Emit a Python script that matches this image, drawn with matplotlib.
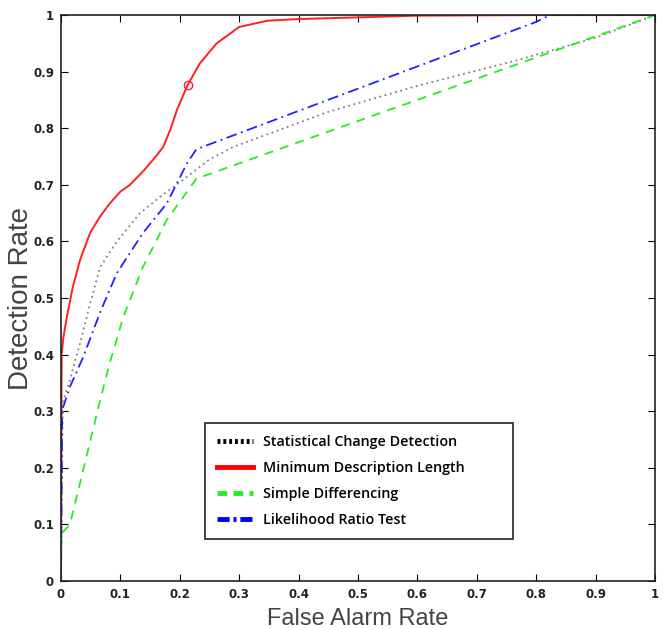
import matplotlib
matplotlib.use("Agg")
from matplotlib import pyplot as plt
from matplotlib.lines import Line2D

# ROC curves
mdl_x = [0.0, 0.001, 0.004, 0.01, 0.02, 0.032, 0.049, 0.065, 0.082, 0.1, 0.116, 0.14, 0.161, 0.172,
         0.185, 0.195, 0.213, 0.234, 0.262, 0.30, 0.347, 0.40, 0.5, 0.6, 0.8, 1.0]
mdl_y = [0.0, 0.40, 0.43, 0.467, 0.52, 0.567, 0.615, 0.643, 0.667, 0.688, 0.70, 0.726, 0.752, 0.767,
         0.80, 0.832, 0.876, 0.915, 0.95, 0.979, 0.99, 0.993, 0.996, 0.999, 1.0, 1.0]
mdl_mark_x = [0.213]
mdl_mark_y = [0.876]

scd_x = [0.0, 0.002, 0.004, 0.015, 0.032, 0.049, 0.066, 0.094, 0.133, 0.167, 0.212, 0.25, 0.29,
         0.45, 0.6, 0.767, 0.9, 0.97, 1.0]
scd_y = [0.0, 0.25, 0.32, 0.355, 0.42, 0.49, 0.555, 0.60, 0.65, 0.679, 0.714, 0.745, 0.767,
         0.829, 0.875, 0.92, 0.96, 0.988, 1.0]

sd_x = [0.0, 0.001, 0.015, 0.032, 0.066, 0.082, 0.105, 0.138, 0.178, 0.228, 1.0]
sd_y = [0.0, 0.084, 0.10, 0.173, 0.32, 0.385, 0.467, 0.555, 0.638, 0.711, 1.0]

lrt_x = [0.0, 0.002, 0.015, 0.0375, 0.066, 0.094, 0.138, 0.178, 0.212, 0.228, 0.80, 0.823, 1.0]
lrt_y = [0.0, 0.302, 0.343, 0.396, 0.475, 0.544, 0.615, 0.667, 0.738, 0.763, 0.988, 1.0, 1.0]

labels = ["Statistical Change Detection", "Minimum Description Length",
          "Simple Differencing", "Likelihood Ratio Test"]
ticks = [0, 0.1, 0.2, 0.3, 0.4, 0.5, 0.6, 0.7, 0.8, 0.9, 1]
tick_labels = ["0", "0.1", "0.2", "0.3", "0.4", "0.5", "0.6", "0.7", "0.8", "0.9", "1"]

fig = plt.figure(figsize=(6.65, 6.29), dpi=100)
ax = fig.add_axes([0.0917, 0.0763, 0.8933, 0.8997])

ax.plot(scd_x, scd_y, color="#808080", linestyle=(0, (1, 2)), linewidth=1.3)
ax.plot(mdl_x, mdl_y, color="#ff2020", linewidth=1.4)
ax.plot(mdl_mark_x, mdl_mark_y, marker="o", markersize=6, markerfacecolor="none",
        markeredgecolor="#ff2020", linestyle="none")
ax.plot(sd_x, sd_y, color="#22ee22", linestyle=(0, (5, 4)), linewidth=1.3)
ax.plot(lrt_x, lrt_y, color="#2222ff", linestyle=(0, (6, 2.5, 1, 2.5)), linewidth=1.3)

ax.set_xlim(0, 1)
ax.set_ylim(0, 1)
ax.set_xticks(ticks)
ax.set_xticklabels(tick_labels)
ax.set_yticks(ticks)
ax.set_yticklabels(tick_labels)
ax.tick_params(direction="in", top=True, right=True, length=5, labelsize=8.5, pad=5)
for t in ax.get_xticklabels() + ax.get_yticklabels():
    t.set_fontweight("semibold")
    t.set_color("#222222")
for s in ax.spines.values():
    s.set_linewidth(1.2)
    s.set_color("#222222")

ax.set_xlabel("False Alarm Rate", fontsize=17, color="#444444", labelpad=5,
              family="Liberation Sans")
ax.set_ylabel("Detection Rate", fontsize=20, color="#444444",
              family="Liberation Sans")
ax.yaxis.set_label_coords(-0.045, 0.5)

handles = [
    Line2D([], [], color="black", linestyle=(0, (0.6, 0.6)), linewidth=3.5),
    Line2D([], [], color="red", linewidth=3.5),
    Line2D([], [], color="#22ee22", linestyle=(0, (2, 1.3)), linewidth=3.5),
    Line2D([], [], color="blue", linestyle=(0, (2.5, 0.8, 0.6, 0.8)), linewidth=3.5),
]
leg = ax.legend(handles, labels, loc="lower left", bbox_to_anchor=(0.231, 0.062, 0.542, 0.2),
                mode="expand", frameon=True, fancybox=False, edgecolor="black",
                handlelength=2.5, handletextpad=0.7, labelspacing=0.85, borderpad=0.8,
                prop={"family": "Open Sans", "size": 10.3, "weight": "semibold"})
leg.get_frame().set_linewidth(1.3)

fig.savefig("out.png", dpi=100)
